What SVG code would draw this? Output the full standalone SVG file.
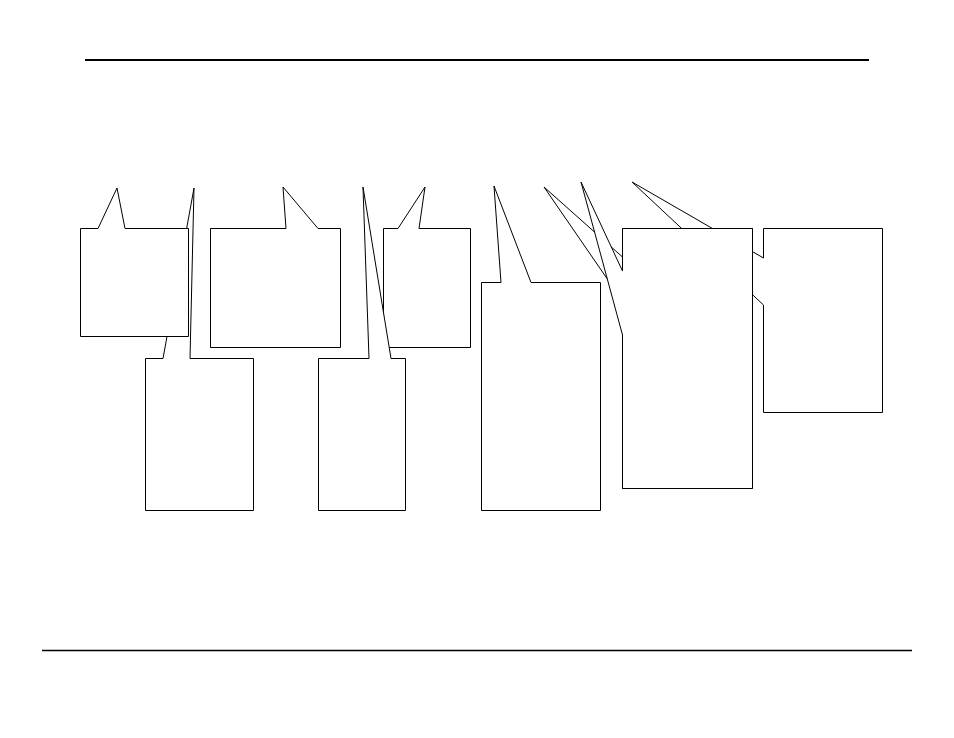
<svg xmlns="http://www.w3.org/2000/svg" width="954" height="738" viewBox="0 0 954 738">
<style>
.callout{fill:#fff;stroke:#000;stroke-width:1;stroke-linejoin:miter}
.rule{stroke:#000;fill:none}
</style>
<rect width="954" height="738" fill="#fff"/>
<g id="rules">
<path class="rule" d="M85,60 H869" stroke-width="2"/>
<path class="rule" d="M42,650.5 H912" stroke-width="1.3"/>
</g>
<g id="callout2"><path class="callout" d="M145.5,358.5 H163 L194,188 L190,358.5 H253.5 V510.5 H145.5 Z"/></g>
<g id="callout1"><path class="callout" d="M80.5,228.5 H98 L117,188 L125,228.5 H188.5 V336.5 H80.5 Z"/></g>
<g id="callout3"><path class="callout" d="M210.5,228.5 H286 L283,187 L318,228.5 H340.5 V347.5 H210.5 Z"/></g>
<g id="callout5"><path class="callout" d="M383.5,228.5 H398 L425,187 L419,228.5 H470.5 V347.5 H383.5 Z"/></g>
<g id="callout4"><path class="callout" d="M318.5,358.5 H369 L363,187 L391,358.5 H405.5 V510.5 H318.5 Z"/></g>
<g id="callout6"><path class="callout" d="M481.5,282.5 H501 L494,186 L531,282.5 H600.5 V510.5 H481.5 Z"/></g>
<g id="callout8"><path class="callout" d="M763.5,228.5 H882.5 V412.5 H763.5 V305 L632,182 L763.5,258 Z"/></g>
<g id="callout7b"><path class="callout" d="M622.5,228.5 H752.5 V488.5 H622.5 V301 L544,187 L622.5,257 Z"/></g>
<g id="callout7"><path class="callout" d="M622.5,228.5 H752.5 V488.5 H622.5 V335 L581,182 L622.5,271 Z"/></g>
</svg>
